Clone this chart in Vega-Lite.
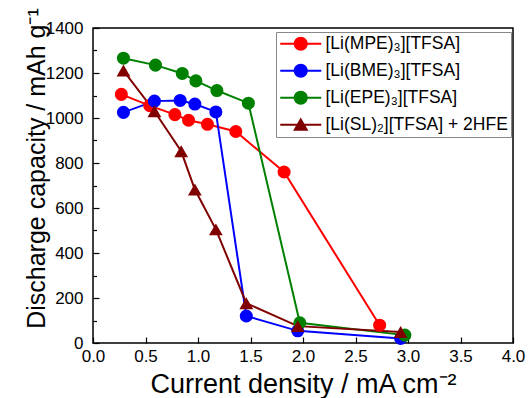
{
  "$schema": "https://vega.github.io/schema/vega-lite/v6.json",
  "width": 420,
  "height": 315,
  "autosize": "none",
  "padding": {"left": 93, "top": 28, "right": 17, "bottom": 55},
  "background": "white",
  "config": {
    "font": "Liberation Sans",
    "view": {"stroke": "black", "strokeWidth": 1.5},
    "axis": {
      "domain": false,
      "grid": false,
      "tickColor": "black",
      "tickWidth": 1.2,
      "labelColor": "black",
      "titleColor": "black",
      "labelFont": "Liberation Sans",
      "titleFont": "Liberation Sans",
      "labelFontSize": 17,
      "titleFontSize": 25,
      "titleFontWeight": "normal"
    }
  },
  "data": {
    "values": [
      {"series": "[Li(MPE)₃][TFSA]", "x": 0.27, "y": 1105},
      {"series": "[Li(MPE)₃][TFSA]", "x": 0.54, "y": 1055},
      {"series": "[Li(MPE)₃][TFSA]", "x": 0.78, "y": 1015},
      {"series": "[Li(MPE)₃][TFSA]", "x": 0.91, "y": 990},
      {"series": "[Li(MPE)₃][TFSA]", "x": 1.09, "y": 972},
      {"series": "[Li(MPE)₃][TFSA]", "x": 1.36, "y": 940},
      {"series": "[Li(MPE)₃][TFSA]", "x": 1.82, "y": 760},
      {"series": "[Li(MPE)₃][TFSA]", "x": 2.73, "y": 79},
      {"series": "[Li(BME)₃][TFSA]", "x": 0.29, "y": 1025},
      {"series": "[Li(BME)₃][TFSA]", "x": 0.585, "y": 1075},
      {"series": "[Li(BME)₃][TFSA]", "x": 0.83, "y": 1078},
      {"series": "[Li(BME)₃][TFSA]", "x": 0.97, "y": 1062},
      {"series": "[Li(BME)₃][TFSA]", "x": 1.17, "y": 1027},
      {"series": "[Li(BME)₃][TFSA]", "x": 1.46, "y": 120},
      {"series": "[Li(BME)₃][TFSA]", "x": 1.95, "y": 54},
      {"series": "[Li(BME)₃][TFSA]", "x": 2.93, "y": 20},
      {"series": "[Li(EPE)₃][TFSA]", "x": 0.29, "y": 1266},
      {"series": "[Li(EPE)₃][TFSA]", "x": 0.595, "y": 1235},
      {"series": "[Li(EPE)₃][TFSA]", "x": 0.85, "y": 1198},
      {"series": "[Li(EPE)₃][TFSA]", "x": 0.98, "y": 1165},
      {"series": "[Li(EPE)₃][TFSA]", "x": 1.18, "y": 1122},
      {"series": "[Li(EPE)₃][TFSA]", "x": 1.48, "y": 1066},
      {"series": "[Li(EPE)₃][TFSA]", "x": 1.97, "y": 90},
      {"series": "[Li(EPE)₃][TFSA]", "x": 2.97, "y": 35},
      {"series": "[Li(SL)₂][TFSA] + 2HFE", "x": 0.29, "y": 1211},
      {"series": "[Li(SL)₂][TFSA] + 2HFE", "x": 0.585, "y": 1030},
      {"series": "[Li(SL)₂][TFSA] + 2HFE", "x": 0.84, "y": 852},
      {"series": "[Li(SL)₂][TFSA] + 2HFE", "x": 0.97, "y": 682},
      {"series": "[Li(SL)₂][TFSA] + 2HFE", "x": 1.17, "y": 505},
      {"series": "[Li(SL)₂][TFSA] + 2HFE", "x": 1.46, "y": 177},
      {"series": "[Li(SL)₂][TFSA] + 2HFE", "x": 1.95, "y": 75},
      {"series": "[Li(SL)₂][TFSA] + 2HFE", "x": 2.93, "y": 49}
    ]
  },
  "encoding": {
    "x": {
      "field": "x", "type": "quantitative",
      "scale": {"domain": [0, 4], "nice": false, "zero": false},
      "axis": {
        "title": "Current density / mA cm⁻²",
        "titleFontSize": 27,
        "values": [0, 0.5, 1, 1.5, 2, 2.5, 3, 3.5, 4],
        "format": ".1f",
        "tickSize": -6,
        "labelPadding": 11,
        "labelBaseline": "top",
        "labelFlush": false,
        "titleBaseline": "alphabetic",
        "titleY": 49,
        "titleX": 210
      }
    },
    "color": {
      "field": "series", "type": "nominal",
      "scale": {
        "domain": ["[Li(MPE)₃][TFSA]", "[Li(BME)₃][TFSA]", "[Li(EPE)₃][TFSA]", "[Li(SL)₂][TFSA] + 2HFE"],
        "range": ["#ff0000", "#0000ff", "#008000", "#800000"]
      },
      "legend": {
        "title": null,
        "orient": "none",
        "legendX": 183,
        "legendY": 4,
        "padding": 3,
        "strokeColor": "#888888",
        "fillColor": "white",
        "labelFont": "Liberation Sans",
        "labelFontSize": 17.5,
        "labelColor": "black",
        "labelLimit": 300,
        "symbolSize": 196,
        "symbolStrokeWidth": 0,
        "symbolOpacity": 1,
        "symbolOffset": 13,
        "labelOffset": 16,
        "rowPadding": 8,
        "encode": {
          "symbols": {
            "update": {
              "shape": {"signal": "indexof(datum.value, 'SL') >= 0 ? 'M-2.93,-0.14H2.93V0.14H-2.93Z M0,-1.05L1.1,0.85L-1.1,0.85Z' : 'M-2.93,-0.14H2.93V0.14H-2.93Z M1,0A1,1,0,1,1,-1,0A1,1,0,1,1,1,0Z'"}
            }
          }
        }
      }
    }
  },
  "layer": [
    {
      "mark": {"type": "line", "strokeWidth": 2},
      "encoding": {
        "y": {
          "field": "y", "type": "quantitative",
          "scale": {"domain": [0, 1400], "nice": false},
          "axis": {
            "orient": "left",
            "title": "Discharge capacity / mAh g⁻¹",
            "values": [0, 200, 400, 600, 800, 1000, 1200, 1400],
            "format": "d",
            "tickSize": -6,
            "labelPadding": 16,
            "labelFlush": false,
            "titleAngle": -90,
            "titleAlign": "center",
            "titleBaseline": "alphabetic",
            "titleX": -49,
            "titleY": 140
          }
        },
        "detail": {"field": "series"}
      }
    },
    {
      "transform": [{"filter": "indexof(datum.series, 'SL') < 0"}],
      "mark": {"type": "point", "shape": "circle", "filled": true, "size": 170, "opacity": 1, "strokeWidth": 0},
      "encoding": {
        "y": {"field": "y", "type": "quantitative", "axis": null}
      }
    },
    {
      "transform": [{"filter": "indexof(datum.series, 'SL') >= 0"}],
      "mark": {"type": "point", "shape": "triangle-up", "filled": true, "size": 190, "opacity": 1, "strokeWidth": 0},
      "encoding": {
        "y": {"field": "y", "type": "quantitative", "axis": null}
      }
    },
    {
      "mark": {"type": "point", "opacity": 0},
      "encoding": {
        "y": {
          "field": "y", "type": "quantitative",
          "axis": {
            "orient": "left",
            "title": null,
            "labels": false,
            "values": [100, 300, 500, 700, 900, 1100, 1300],
            "tickSize": -3.5,
            "tickColor": "black",
            "tickWidth": 1.2
          }
        },
        "color": {"value": "black"}
      }
    }
  ],
  "resolve": {"axis": {"y": "independent"}}
}
